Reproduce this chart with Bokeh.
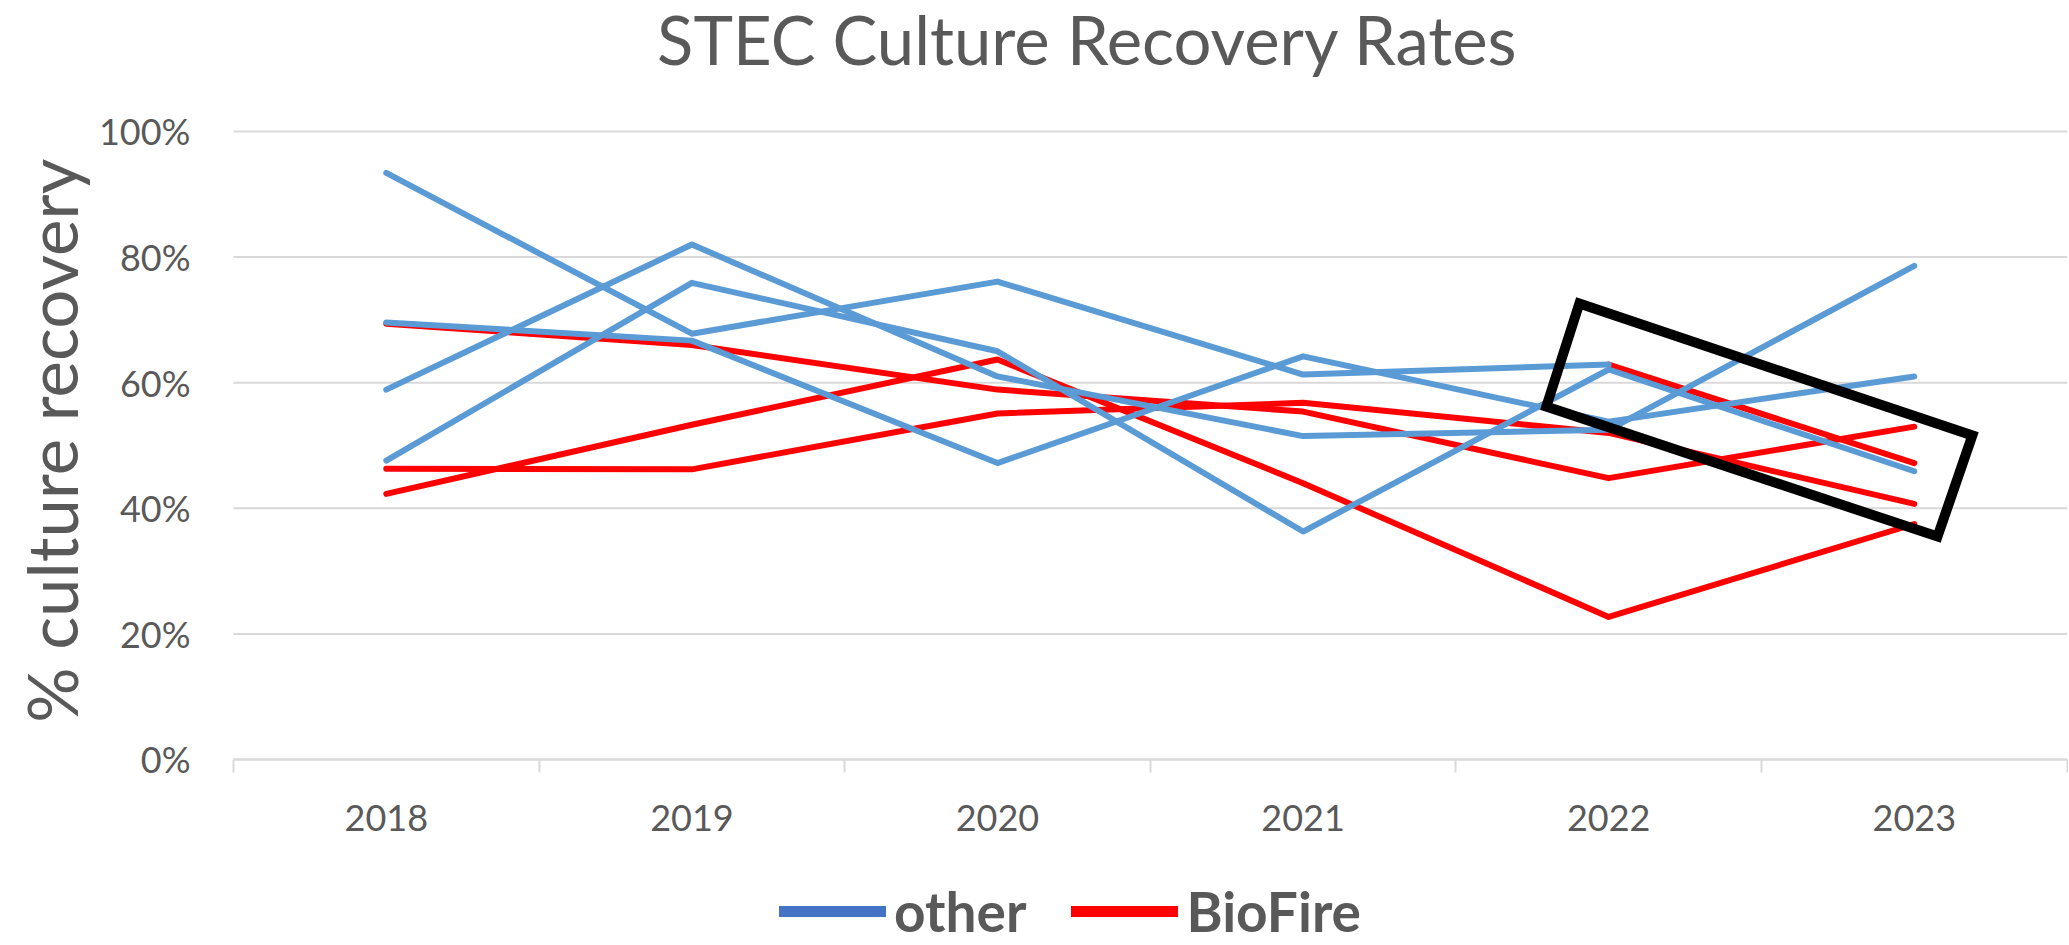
import math
from bokeh.plotting import figure
from bokeh.models import Range1d, FixedTicker, Legend, LegendItem, Label, PrintfTickFormatter
from bokeh.embed import file_html
from bokeh.resources import INLINE

NaN = math.nan

# ---- data (percent culture recovery) ----
years = ["2018", "2019", "2020", "2021", "2022", "2023"]

other_a = [93.4, 67.8, 76.1, 61.3, 62.9, NaN]
other_b = [58.9, 82.0, 61.0, 51.5, 52.5, 78.6]
other_c = [47.6, 75.9, 65.0, 36.3, 62.1, 45.9]
other_d = [69.6, 66.7, 47.2, 64.2, 53.8, 61.0]

biofire_a = [69.4, 66.0, 58.9, 55.4, 44.8, 53.0]
biofire_b = [46.3, 46.2, 55.1, 56.8, 52.0, 40.7]
biofire_c = [42.3, 53.3, 63.7, 44.0, 22.7, 37.5]
biofire_d = [NaN, NaN, NaN, NaN, 62.9, 47.2]

y_ticks = [0, 20, 40, 60, 80, 100]

# highlight box drawn on the chart (category index units, percent)
box_x = [4.404, 5.690, 5.576, 4.296]
box_y = [72.6, 51.6, 35.5, 56.2]

BLUE = "#5B9BD5"
RED = "#FF0000"
GREY_TXT = "#595959"
GRID = "#D9D9D9"
FONT = "Lato"

n = len(years)
xs = [i + 0.5 for i in range(n)]

# The frame covers the whole canvas; axes are pinned at x=0 / y=0 so that
# the title, axis title and legend can sit around the plotting area.
p = figure(width=2068, height=944, output_backend="svg", toolbar_location=None,
           x_range=Range1d(-0.7624, 6.0046), y_range=Range1d(-29.46, 120.86),
           min_border_left=0, min_border_right=0, min_border_top=0, min_border_bottom=0)
p.outline_line_color = None
p.background_fill_color = "white"
p.border_fill_color = "white"
p.grid.grid_line_color = None

# horizontal gridlines across the plotting area only
p.segment(x0=[0] * len(y_ticks), x1=[n] * len(y_ticks), y0=y_ticks, y1=y_ticks,
          line_color=GRID, line_width=2, level="underlay")

for ys in (biofire_a, biofire_b, biofire_c, biofire_d):
    p.line(xs, ys, line_color=RED, line_width=6, line_cap="round", line_join="round")
for ys in (other_a, other_b, other_c, other_d):
    p.line(xs, ys, line_color=BLUE, line_width=6, line_cap="round", line_join="round")

p.patch(box_x, box_y, fill_alpha=0, line_color="black", line_width=10, line_join="miter")

# y axis
p.yaxis.fixed_location = 0
p.yaxis.ticker = FixedTicker(ticks=y_ticks)
p.yaxis.formatter = PrintfTickFormatter(format="%d%%")
p.yaxis.axis_line_color = None
p.yaxis.major_tick_line_color = None
p.yaxis.minor_tick_line_color = None
p.yaxis.major_tick_out = 0
p.yaxis.major_tick_in = 0
p.yaxis.major_label_standoff = 43
p.yaxis.major_label_text_font = FONT
p.yaxis.major_label_text_font_size = "36px"
p.yaxis.major_label_text_color = GREY_TXT

# x axis
p.xaxis.fixed_location = 0
p.xaxis.bounds = (0, n)
p.xaxis.ticker = FixedTicker(ticks=xs, minor_ticks=list(range(n + 1)))
p.xaxis.major_label_overrides = {x: y for x, y in zip(xs, years)}
p.xaxis.axis_line_color = GRID
p.xaxis.axis_line_width = 2
p.xaxis.major_tick_line_color = None
p.xaxis.major_tick_out = 0
p.xaxis.major_tick_in = 0
p.xaxis.minor_tick_line_color = GRID
p.xaxis.minor_tick_line_width = 2
p.xaxis.minor_tick_out = 13
p.xaxis.minor_tick_in = 0
p.xaxis.major_label_standoff = 33
p.xaxis.major_label_text_font = FONT
p.xaxis.major_label_text_font_size = "36px"
p.xaxis.major_label_text_color = GREY_TXT

# chart title and y-axis title
p.add_layout(Label(x=2.795, y=114.8, text="STEC Culture Recovery Rates",
                   text_align="center", text_baseline="alphabetic",
                   text_font=FONT, text_font_size="67px", text_color=GREY_TXT))
p.add_layout(Label(x=-0.597, y=50.75, text="% culture recovery", angle=math.pi / 2,
                   text_align="center", text_baseline="middle",
                   text_font=FONT, text_font_size="69px", text_color=GREY_TXT))

# legend
leg_other = p.line([NaN], [NaN], line_color="#4472C4", line_width=11, line_cap="round")
leg_bio = p.line([NaN], [NaN], line_color=RED, line_width=11, line_cap="round")
legend = Legend(items=[LegendItem(label="other", renderers=[leg_other]),
                       LegendItem(label="BioFire", renderers=[leg_bio])],
                location=(779, 0), orientation="horizontal",
                glyph_width=107, glyph_height=20, label_standoff=8, spacing=45,
                padding=0, margin=0, border_line_alpha=0, background_fill_alpha=0,
                label_text_font=FONT, label_text_font_size="55px",
                label_text_font_style="bold", label_text_color=GREY_TXT)
p.add_layout(legend)

open("out.html", "w").write(file_html(p, INLINE))
